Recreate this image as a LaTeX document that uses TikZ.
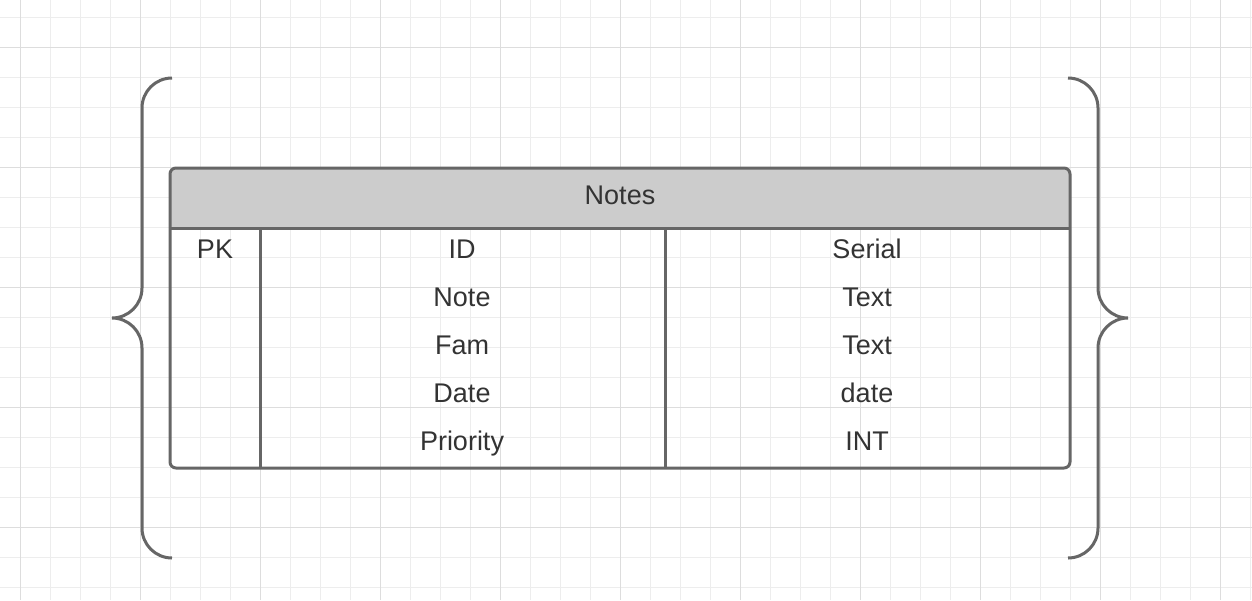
\documentclass[tikz,border=0pt]{standalone}
\usepackage{fontspec}
\setmainfont{Liberation Sans}
\usetikzlibrary{positioning}
\definecolor{gridminor}{HTML}{EDEDED}
\definecolor{gridmajor}{HTML}{DDDDDD}
\definecolor{edgegray}{HTML}{666666}
\definecolor{headgray}{HTML}{CCCCCC}
\definecolor{textgray}{HTML}{333333}
\tikzset{
  cell/.style={text=textgray, font=\fontsize{27}{32}\selectfont, inner sep=0pt, anchor=base},
  edge/.style={line width=3pt, draw=edgegray},
}
\begin{document}
\begin{tikzpicture}[x=1pt, y=-1pt]
      \path[use as bounding box, fill=white] (0, 0) rectangle (1252, 600);

      % grid
      \foreach \i in {0,1,...,41} {
        \draw[gridminor, line width=1pt] (20+30*\i, 0) -- +(0, 600);
      }
      \foreach \j in {0,1,...,19} {
        \draw[gridminor, line width=1pt] (0, 17+30*\j) -- +(1252, 0);
      }
      \foreach \i in {0,1,...,10} {
        \draw[gridmajor, line width=1pt] (20+120*\i, 0) -- +(0, 600);
      }
      \foreach \j in {0,1,...,4} {
        \draw[gridmajor, line width=1pt] (0, 47+120*\j) -- +(1252, 0);
      }

      % braces
      \draw[edge] (172, 78) arc[start angle=-90, end angle=-180, radius=30]
        -- (142, 288) arc[start angle=0, end angle=90, radius=30]
        arc[start angle=-90, end angle=0, radius=30] -- (142, 528)
        arc[start angle=-180, end angle=-270, radius=30];
      \draw[edge] (1068, 78) arc[start angle=-90, end angle=0, radius=30]
        -- (1098, 288) arc[start angle=180, end angle=90, radius=30]
        arc[start angle=-90, end angle=-180, radius=30] -- (1098, 528)
        arc[start angle=0, end angle=90, radius=30];

      % table
      \fill[headgray, rounded corners=6pt] (170, 168) rectangle (1070, 228);
      \fill[headgray] (170, 200) rectangle (1070, 228);
      \draw[edge] (170, 228) -- (1070, 228);
      \draw[edge] (260, 228) -- (260, 468);
      \draw[edge] (665, 228) -- (665, 468);
      \draw[edge, rounded corners=6pt] (170, 168) rectangle (1070, 468);

      \node[cell] at (620, 204) (title) {Notes};
      \node[cell] at (215, 258) (pk) {PK};

      \foreach \n/\t [count=\k from 0] in {ID/Serial, Note/Text, Fam/Text, Date/date, Priority/INT} {
        \node[cell] at (462, 258+48*\k) (name\k) {\n};
        \node[cell] at (867, 258+48*\k) (type\k) {\t};
      }
    \end{tikzpicture}
\end{document}
